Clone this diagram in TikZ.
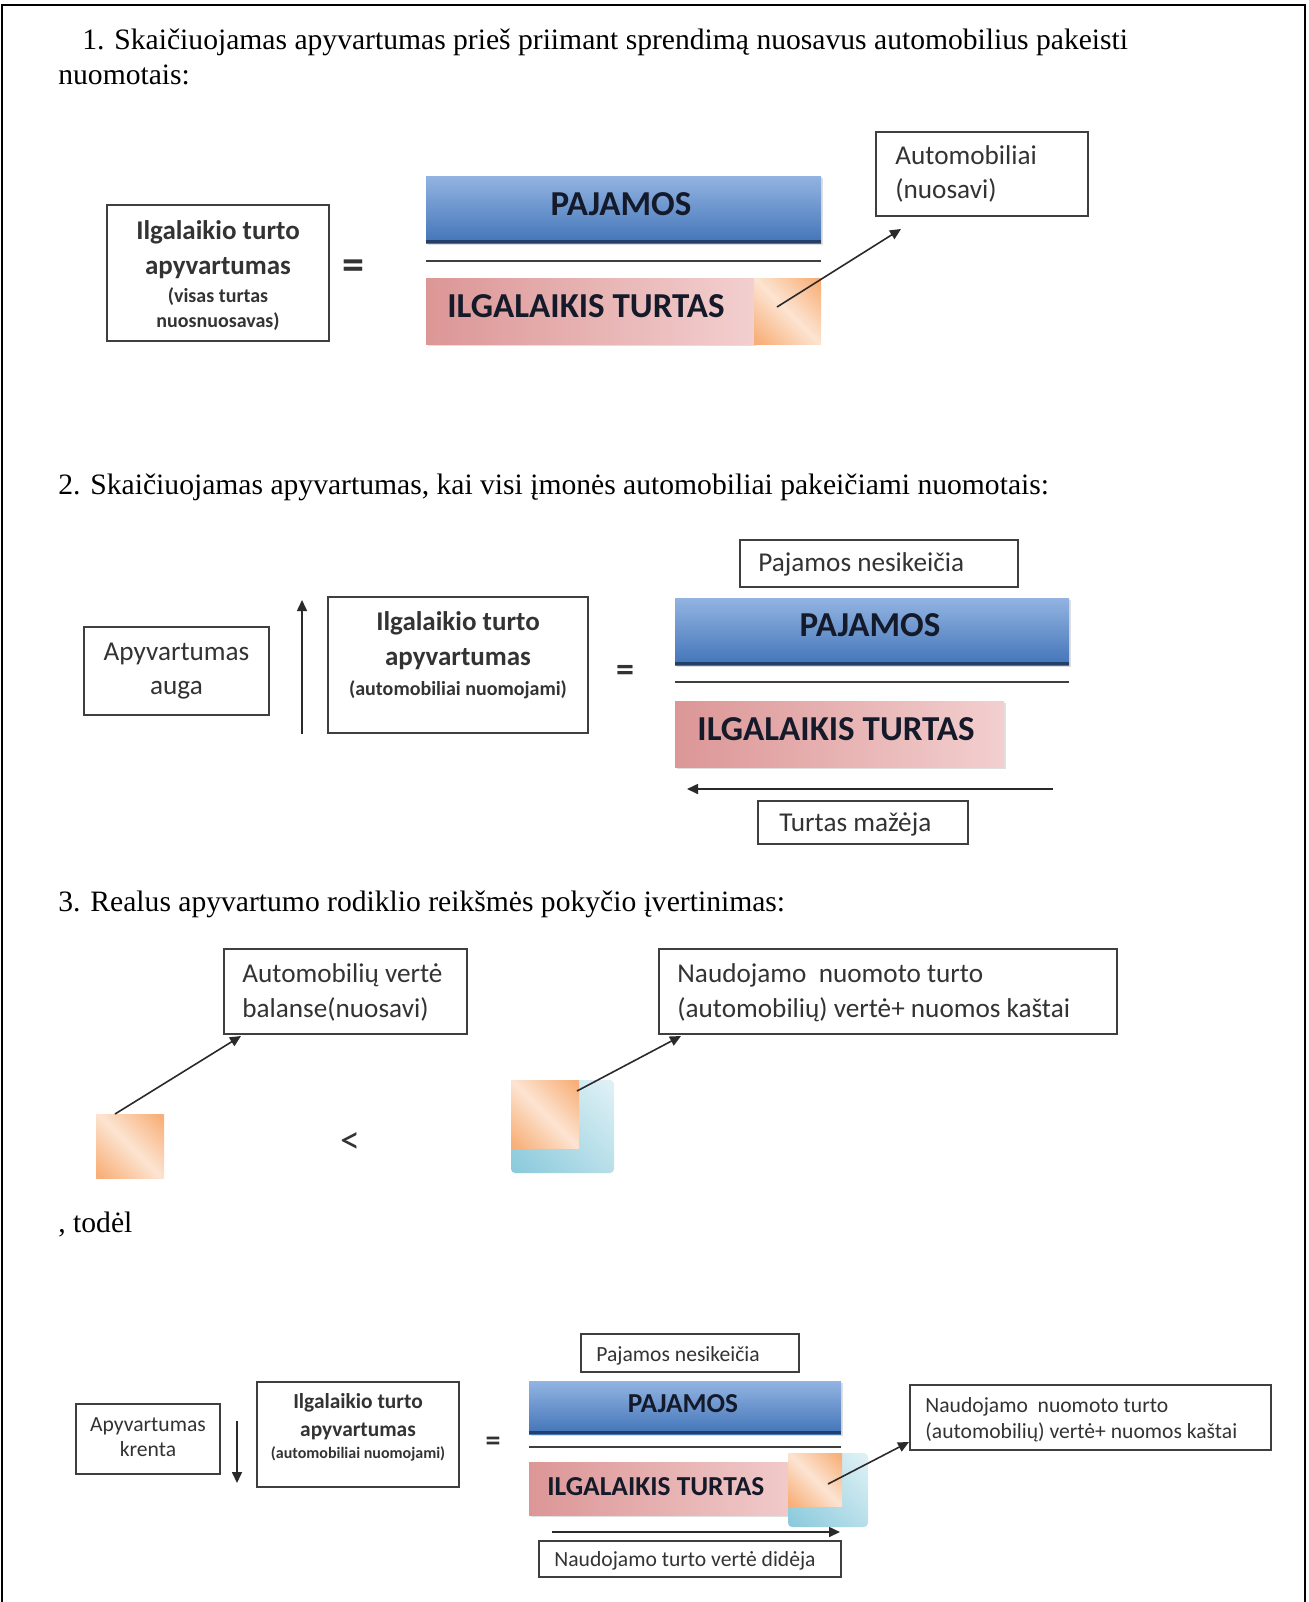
\documentclass[tikz,border=0pt]{standalone}
\usepackage{fontspec}
\setmainfont{Liberation Serif}
\newfontfamily\calib{Carlito}
\usetikzlibrary{arrows.meta,fit,shadows}
\definecolor{boxline}{HTML}{3F3F3F}
\definecolor{txt}{HTML}{333333}
\definecolor{bartxt}{HTML}{141A2A}
\definecolor{pajT}{HTML}{93B4E2}
\definecolor{pajB}{HTML}{4274B8}
\definecolor{pajE}{HTML}{243F69}
\definecolor{ilgL}{HTML}{DC9696}
\definecolor{ilgR}{HTML}{F3CFCF}
\definecolor{pchO}{HTML}{F8B07A}
\definecolor{pchL}{HTML}{FCE4D2}
\definecolor{cyD}{HTML}{8DCBDC}
\definecolor{cyL}{HTML}{DDF0F5}
\definecolor{arrc}{HTML}{2A2A2A}
\pgfdeclarehorizontalshading{peachsh}{100bp}{color(0bp)=(pchO); color(18bp)=(pchO); color(50bp)=(pchL); color(82bp)=(pchO); color(100bp)=(pchO)}
\pgfdeclarehorizontalshading{cyansh}{100bp}{color(0bp)=(cyD); color(18bp)=(cyD); color(82bp)=(cyL); color(100bp)=(cyL)}
\tikzset{
  bx/.style={draw=boxline, line width=1pt, fill=white, inner sep=0pt},
  tx/.style={inner sep=0pt, text=txt},
  pajbar/.style={inner sep=0pt, top color=pajT, bottom color=pajB, drop shadow={shadow xshift=0.8pt, shadow yshift=-1.2pt, opacity=0.25}},
  ilgbar/.style={inner sep=0pt, left color=ilgL, right color=ilgR, drop shadow={shadow xshift=0.8pt, shadow yshift=-1.2pt, opacity=0.25}},
  sqO/.style={inner sep=0pt, shading=peachsh, shading angle=45},
  sqB/.style={inner sep=0pt, shading=cyansh, shading angle=45, rounded corners=2pt},
  arr/.style={draw=arrc, line width=0.8pt, -{Triangle[length=5.5pt,width=5pt]}},
  hd/.style={inner sep=0pt, anchor=base west, font=\fontsize{14.8}{18}\selectfont},
  fB/.style={font=\calib\bfseries\fontsize{13.5}{16}\selectfont},
  fBs/.style={font=\calib\bfseries\fontsize{10}{12}\selectfont},
  fR/.style={font=\calib\fontsize{13.6}{16}\selectfont},
  fBar/.style={font=\calib\bfseries\fontsize{17.5}{20}\selectfont, text=bartxt},
  fB4/.style={font=\calib\bfseries\fontsize{10.7}{13}\selectfont},
  fBs4/.style={font=\calib\bfseries\fontsize{8}{10}\selectfont},
  fR4/.style={font=\calib\fontsize{10.8}{13}\selectfont},
  fBar4/.style={font=\calib\bfseries\fontsize{13.7}{16}\selectfont, text=bartxt},
  edge/.style={draw=pajE, line width=1.5pt},
  frac/.style={draw=boxline, line width=0.9pt},
}
\begin{document}
\begin{tikzpicture}[x=0.5pt,y=-0.5pt]
\path[use as bounding box] (0,0) rectangle (1308,1602);
% frame
\draw[line width=1.2pt, black] (2,1602) -- (2,5) -- (1305,5) -- (1305,1602);

% headings
\node[hd] (h1a) at (82,49) {1. Skaičiuojamas apyvartumas prieš priimant sprendimą nuosavus automobilius pakeisti};
\node[hd] (h1b) at (58,84) {nuomotais:};
\node[hd] (h2) at (58,494) {2. Skaičiuojamas apyvartumas, kai visi įmonės automobiliai pakeičiami nuomotais:};
\node[hd] (h3) at (58,911) {3. Realus apyvartumo rodiklio reikšmės pokyčio įvertinimas:};
\node[hd] (h4) at (58,1232) {, todėl};

% ---------- section 1
\node[bx, fit={(107,205)(329,341)}] (b1) {};
\node[tx, fB, anchor=mid] (b1a) at (218,235) {Ilgalaikio turto};
\node[tx, fB, anchor=mid] (b1b) at (218,270) {apyvartumas};
\node[tx, fBs, anchor=mid] (b1c) at (218,298) {(visas turtas};
\node[tx, fBs, anchor=mid] (b1d) at (218,323) {nuosnuosavas)};
\node[tx, font=\calib\bfseries\fontsize{22}{24}\selectfont, anchor=mid] (eq1) at (353,275) {=};

\node[pajbar, fit={(426,176)(821,243)}] (paj1) {};
\draw[edge] ([yshift=0.75pt]paj1.south west) -- ([yshift=0.75pt]paj1.south east);
\node[inner sep=0pt, fBar, anchor=mid] (paj1t) at (621,211) {PAJAMOS};
\draw[frac] (426,261) -- (821,261);
\node[ilgbar, fit={(426,278)(754,344)}] (ilg1) {};
\node[sqO, fit={(754,278)(821,344)}] (o1) {};
\node[inner sep=0pt, fBar, anchor=mid west] (ilg1t) at (447,313) {ILGALAIKIS TURTAS};
\node[bx, fit={(876,132)(1088,216)}] (auto1) {};
\node[tx, fR, anchor=mid west] (auto1a) at (895,160) {Automobiliai};
\node[tx, fR, anchor=mid west] (auto1b) at (895,194) {(nuosavi)};
\coordinate (a1s) at (777,307);
\coordinate (a1e) at (901,229);
\draw[arr] (a1s) -- (a1e);

% ---------- section 2
\node[bx, fit={(84,627)(269,715)}] (up2) {};
\node[tx, fR, anchor=mid] (up2a) at (176.5,656) {Apyvartumas};
\node[tx, fR, anchor=mid] (up2b) at (176.5,690) {auga};
\coordinate (u2s) at (302,734);
\coordinate (u2e) at (302,600);
\draw[arr] (u2s) -- (u2e);
\node[bx, fit={(328,597)(588,733)}] (b2) {};
\node[tx, fB, anchor=mid] (b2a) at (458,626) {Ilgalaikio turto};
\node[tx, fB, anchor=mid] (b2b) at (458,661) {apyvartumas};
\node[tx, fBs, anchor=mid] (b2c) at (458,691) {(automobiliai nuomojami)};
\node[tx, font=\calib\bfseries\fontsize{18}{20}\selectfont, anchor=mid] (eq2) at (625,677) {=};
\node[bx, fit={(740,540)(1018,587)}] (pn2) {};
\node[tx, fR, anchor=mid west] (pn2t) at (758,567) {Pajamos nesikeičia};
\node[pajbar, fit={(675,598)(1069,665)}] (paj2) {};
\draw[edge] ([yshift=0.75pt]paj2.south west) -- ([yshift=0.75pt]paj2.south east);
\node[inner sep=0pt, fBar, anchor=mid] (paj2t) at (870,632) {PAJAMOS};
\draw[frac] (675,682) -- (1069,682);
\node[ilgbar, fit={(675,701)(1004,767)}] (ilg2) {};
\node[inner sep=0pt, fBar, anchor=mid west] (ilg2t) at (697,736) {ILGALAIKIS TURTAS};
\coordinate (l2s) at (1053,789);
\coordinate (l2e) at (687,789);
\draw[arr] (l2s) -- (l2e);
\node[bx, fit={(758,801)(968,844)}] (tm2) {};
\node[tx, fR, anchor=mid west] (tm2t) at (779,827) {Turtas mažėja};

% ---------- section 3
\node[bx, fit={(224,949)(467,1034)}] (av3) {};
\node[tx, fR, anchor=mid west] (av3a) at (242,978) {Automobilių vertė};
\node[tx, fR, anchor=mid west] (av3b) at (242,1013) {balanse(nuosavi)};
\node[sqO, fit={(96,1114)(164,1178)}] (o3) {};
\coordinate (a3s) at (115,1114);
\coordinate (a3e) at (241,1036);
\draw[arr] (a3s) -- (a3e);
\node[tx, font=\calib\fontsize{20}{22}\selectfont, anchor=mid] (lt3) at (350,1149) {<};
\node[sqB, fit={(511,1080)(614,1173)}] (c3) {};
\node[sqO, fit={(511,1080)(579,1148)}] (o3b) {};
\node[bx, fit={(659,949)(1117,1034)}] (nn3) {};
\node[tx, fR, anchor=mid west] (nn3a) at (677,978) {Naudojamo~ nuomoto turto};
\node[tx, fR, anchor=mid west] (nn3b) at (677,1013) {(automobilių) vertė+ nuomos kaštai};
\coordinate (b3s) at (577,1091);
\coordinate (b3e) at (681,1036);
\draw[arr] (b3s) -- (b3e);

% ---------- section 4
\node[bx, fit={(76,1404)(220,1474)}] (kr4) {};
\node[tx, fR4, anchor=mid] (kr4a) at (148,1427) {Apyvartumas};
\node[tx, fR4, anchor=mid] (kr4b) at (148,1452) {krenta};
\coordinate (d4s) at (237,1421);
\coordinate (d4e) at (237,1483);
\draw[arr] (d4s) -- (d4e);
\node[bx, fit={(257,1382)(459,1487)}] (b4) {};
\node[tx, fB4, anchor=mid] (b4a) at (358,1404) {Ilgalaikio turto};
\node[tx, fB4, anchor=mid] (b4b) at (358,1432) {apyvartumas};
\node[tx, fBs4, anchor=mid] (b4c) at (358,1454) {(automobiliai nuomojami)};
\node[tx, font=\calib\bfseries\fontsize{15}{17}\selectfont, anchor=mid] (eq4) at (493,1446) {=};
\node[bx, fit={(581,1334)(799,1372)}] (pn4) {};
\node[tx, fR4, anchor=mid west] (pn4t) at (596,1357) {Pajamos nesikeičia};
\node[pajbar, fit={(529,1381)(841,1434)}] (paj4) {};
\draw[edge] ([yshift=0.75pt]paj4.south west) -- ([yshift=0.75pt]paj4.south east);
\node[inner sep=0pt, fBar4, anchor=mid] (paj4t) at (683,1408) {PAJAMOS};
\draw[frac] (529,1447) -- (841,1447);
\node[ilgbar, fit={(529,1462)(815,1515)}] (ilg4) {};
\node[sqB, fit={(788,1453)(868,1527)}] (c4) {};
\node[sqO, fit={(788,1453)(842,1506)}] (o4) {};
\node[inner sep=0pt, fBar4, anchor=mid west] (ilg4t) at (547,1491) {ILGALAIKIS TURTAS};
\node[bx, fit={(910,1385)(1271,1450)}] (nn4) {};
\node[tx, fR4, anchor=mid west] (nn4a) at (925,1408) {Naudojamo~ nuomoto turto};
\node[tx, fR4, anchor=mid west] (nn4b) at (925,1434) {(automobilių) vertė+ nuomos kaštai};
\coordinate (a4s) at (828,1484);
\coordinate (a4e) at (909,1442);
\draw[arr] (a4s) -- (a4e);
\coordinate (r4s) at (552,1532);
\coordinate (r4e) at (840,1532);
\draw[arr] (r4s) -- (r4e);
\node[bx, fit={(539,1541)(841,1577)}] (nt4) {};
\node[tx, fR4, anchor=mid west] (nt4t) at (554,1562) {Naudojamo turto vertė didėja};
\end{tikzpicture}
\end{document}
